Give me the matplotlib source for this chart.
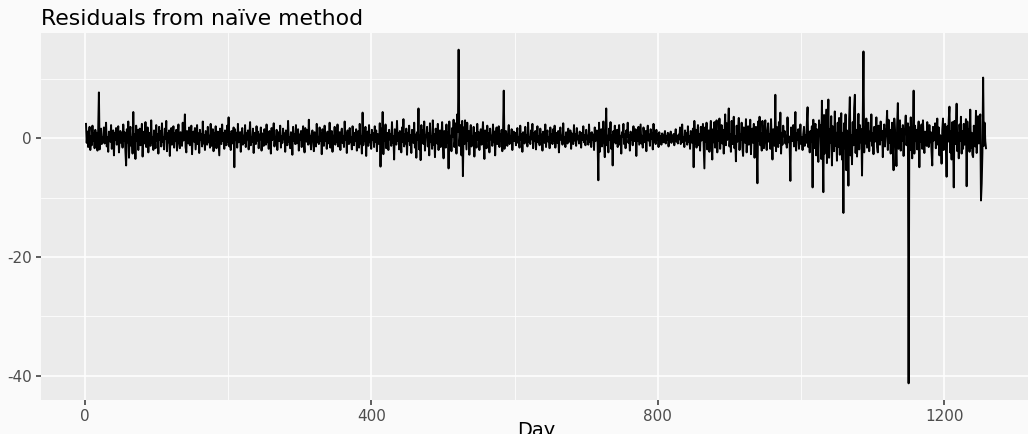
import numpy as np
import matplotlib
matplotlib.use("Agg")
import matplotlib.pyplot as plt
from matplotlib.ticker import MultipleLocator

plt.rcParams["axes.unicode_minus"] = False

# residuals from the naive method (day 2 .. 1258)
resid = [
    2.4, -0.8, 1.1, -1.5, 0.6, 1.9, -2.0, 0.3, -1.2, 2.1, -0.5, 0.8, -1.7, 1.4, -0.2, 0.9, -2.1, 1.3, 7.7, -1.9, 0.4, 1.6, -1.0, 0.2, -0.7,
    1.8, -0.9, 0.5, 2.6, -1.4, 0.2, -2.3, 1.1, 0.7, -0.6, 2.2, -1.8, 0.4, 1.3, -2.9, 0.9, -0.3, 1.7, -1.1, 0.6, 2.0, -2.4, 0.1, 1.2, -0.8,
    0.9, -1.6, 2.3, -0.4, 1.0, -2.2, -4.6, 1.5, -0.7, 2.8, -3.3, 0.6, 1.9, -1.3, 0.2, -2.6, 4.4, -1.8, 0.7, -3.5, 2.1, -0.5, 1.4, -2.0, 0.8,
    1.6, -1.2, 0.3, 2.4, -3.1, 0.5, 1.1, -0.9, 2.7, -1.5, -0.2, 1.8, -2.4, 0.9, 0.4, -1.3, 3.0, -0.8, 0.1, -2.0, 1.3, 0.6, -1.7, 2.2, -0.4,
    0.7, -2.6, 1.9, -0.3, 1.2, -1.4, 2.5, -0.6, 0.2, -1.9, 1.6, -0.1, 2.9, -2.2, 0.8, -0.7, 1.3, -3.0, 0.5, 1.7, -1.1, 0.3, 2.0, -1.6, 0.9,
    -0.5, 1.4, -2.1, 0.6, 2.3, -0.8, -1.7, 1.0, 0.2, -1.3, 2.6, -0.4, 0.9, 4.0, -1.5, -2.4, 1.2, 0.3, -0.9, 1.8, -1.2, 0.5, 2.1, -2.7, 0.4,
    1.1, -0.6, 1.7, -1.9, 0.3, 2.2, -1.0, 0.8, -2.5, 1.4, -0.2, 0.7, -1.4, 2.8, -0.9, 0.5, -2.0, 1.2, 0.1, -1.1, 1.9, -0.7, 0.4, -1.6, 2.4,
    -1.3, 0.6, 1.5, -2.2, 0.9, -0.4, 2.0, -1.7, 0.3, 1.1, -0.8, -2.9, 1.6, 0.2, -1.0, 2.3, -0.5, 0.8, -1.8, 1.3, 0.4, -1.2, 2.1, -0.6, 3.5,
    -1.4, 0.7, -2.0, 1.2, 0.3, -0.9, 1.8, -4.9, 1.5, -0.3, 0.9, -1.6, 2.4, -0.7, 0.2, 1.0, -2.3, 0.6, 1.7, -1.1, 0.4, -0.8, 2.2, -1.5, 0.8,
    -0.2, 1.3, -1.9, 0.5, 2.7, -1.2, 0.1, -0.6, 1.6, -2.5, 0.9, 0.3, -1.0, 2.0, -0.4, 1.1, -1.7, 0.6, -0.2, 1.8, -2.1, 0.8, 0.2, -1.3, 1.5,
    0.4, -1.1, 2.3, -0.7, 0.9, -1.8, 1.2, 0.1, -2.6, 1.7, -0.3, 0.6, 2.5, -1.4, 0.2, -0.9, 1.4, -2.0, 0.7, 1.0, -0.5, 2.1, -1.6, 0.3, -0.8,
    1.6, -0.2, 0.8, -2.3, 1.3, 0.5, -1.2, 2.9, -0.6, 0.1, -1.7, 1.0, 0.4, -2.8, 1.9, -0.4, 0.7, -1.0, 2.2, -0.9, 0.3, 1.5, -2.1, 0.6, -0.3,
    1.2, -1.5, 0.5, 2.0, -0.8, -2.4, 1.7, 0.2, -0.6, 1.4, -1.1, 3.1, -0.9, 0.4, -1.9, 0.8, 1.3, -0.3, -2.2, 1.0, 0.6, -1.4, 2.4, -0.7, 0.2,
    -1.0, 1.8, -0.4, 0.9, -2.7, 1.5, 0.3, -1.3, 2.1, -0.5, 0.7, -1.8, 1.1, 0.2, -0.9, 2.6, -1.6, 0.5, 1.2, -2.3, 0.4, -0.2, 1.9, -1.1, 0.8,
    -0.6, 2.3, -1.4, 0.1, 1.0, -2.0, 0.7, 1.6, -0.8, 0.3, -1.5, 2.8, -0.3, 0.9, -2.5, 1.3, 0.4, -1.0, 1.7, -0.7, 0.2, -1.9, 2.0, 0.6, -1.2,
    0.9, -0.4, 1.5, -2.1, 0.6, 1.2, -1.6, 2.4, -0.9, 0.3, -2.6, 4.3, -1.2, 0.8, -0.5, 1.9, -3.0, 0.4, 1.1, -1.3, 2.2, -0.7, 0.5, -1.8, 1.4,
    -0.3, 0.8, -1.5, 2.0, -0.6, 1.3, -2.2, 0.7, 0.2, -1.0, 2.5, -4.8, 1.6, -0.9, 4.4, -2.7, 1.1, -0.4, 2.3, -1.7, 0.5, 0.9, -2.0, 1.4, -0.2,
    0.6, -1.3, 2.7, -0.8, 0.3, -3.6, 1.5, 0.4, -1.1, 2.9, -0.5, 0.8, -1.9, 1.2, 0.1, -2.4, 1.8, -0.6, 3.2, -1.4, 0.7, -0.9, 1.6, -2.8, 0.9,
    -0.4, 2.1, -1.2, 0.5, -2.5, 1.4, 0.2, -0.8, 2.6, -1.6, 0.6, -3.3, 1.0, -0.3, 5.0, -1.9, 0.4, -3.7, 2.2, -0.7, 1.3, -1.0, 2.8, -2.1, 0.5,
    0.2, 1.9, -1.4, 0.8, -2.9, 2.5, -0.6, 0.3, -1.8, 3.0, -1.1, 0.7, -3.2, 1.6, 0.4, -0.9, 2.4, -2.0, 0.6, 1.3, -1.5, 0.1, 2.7, -0.8, -3.4,
    1.2, 0.5, -1.6, 2.3, -0.7, 1.0, -5.1, 2.8, -1.2, 0.4, -2.2, 1.7, 0.3, 3.1, -1.5, -0.4, 2.5, -2.6, 4.0, 1.1, 14.9, -1.3, 0.6, 2.2, -2.9,
    2.9, -6.4, 1.8, -1.0, 3.0, 0.4, -1.9, 2.6, -0.5, 1.2, -2.8, 0.7, 2.2, -1.4, 0.3, -0.8, 1.9, -3.1, 0.9, 0.2, -1.6, 2.4, -0.3, 1.0, -2.0,
    0.6, 1.5, -1.1, 0.2, 2.7, -0.9, -3.5, 1.3, 0.5, -1.7, 2.1, -0.4, 0.8, -2.4, 1.6, -0.2, 0.4, -1.3, 2.3, -0.7, 1.1, -2.9, 0.6, 1.8, -1.0,
    0.3, 2.0, -1.5, 0.7, -0.4, 1.4, -2.2, 0.9, 8.0, -1.8, 0.5, 1.2, -0.6, -1.3, 0.8, 2.2, -1.0, 0.3, -0.7, 1.5, -2.0, 0.4, 1.1, -0.5, 0.9,
    -1.2, 0.6, 1.7, -0.8, 0.2, -1.6, 2.1, -0.3, 0.7, -2.3, 1.0, 0.4, -0.9, 1.9, -0.4, 0.5, -1.4, 2.6, -0.6, 0.1, -1.0, 1.3, -0.2, 2.4, -1.7,
    0.8, -0.5, 1.2, -1.9, 0.4, 2.0, -0.7, 0.3, -1.2, 1.6, -0.3, 0.6, -2.1, 1.1, 0.2, -0.8, 2.3, -1.5, 0.5, 1.3, -0.6, 0.1, -1.7, 1.8, -0.2,
    0.7, -1.0, 1.5, -0.4, 2.1, -1.6, 0.3, 0.9, -0.8, 1.2, -2.4, 0.6, 1.8, -0.3, 0.4, -1.1, 2.5, -0.7, 0.2, -1.5, 1.0, 0.5, -0.9, 1.6, -0.1,
    -0.6, 1.3, -1.8, 0.8, 0.3, -1.0, 2.2, -0.4, 0.6, -1.3, 1.7, -0.2, 0.4, -0.9, 1.1, 0.2, -1.6, 0.9, -0.3, 2.0, -0.7, 0.5, -1.2, 1.4, -0.2,
    0.4, -1.1, 2.3, -0.6, 0.8, -1.5, 1.0, -0.2, 0.6, -2.0, 1.8, -0.5, 0.2, 1.3, -0.9, -7.1, 2.6, -2.3, 0.7, 1.5, -1.4, 0.3, 2.8, -0.8, -3.2,
    0.9, 5.0, -1.2, 0.4, -2.4, 1.6, -0.3, 2.7, -1.8, 0.5, -4.6, 1.2, -0.6, 2.1, -0.9, 0.3, 1.4, -1.5, 0.7, 2.2, -1.1, 0.4, -2.6, 1.0, 0.2,
    2.4, -1.0, 0.6, -1.7, 1.3, 0.2, 2.6, -0.8, 0.5, -2.1, 1.1, -0.3, 0.9, -1.2, 2.0, -0.5, 0.3, 1.5, -3.0, 0.8, -0.4, 1.9, -1.1, 0.6, 2.3,
    -0.9, 0.4, -1.6, 1.8, 0.2, -0.7, 1.2, -2.2, 0.8, 2.1, -0.4, 0.6, -1.3, 1.5, -0.1, 0.9, -1.9, 2.4, -0.6, 0.3, -1.0, 1.4, -0.2, 0.7, -1.5,
    1.0, -0.5, 0.3, -1.1, 0.8, 0.2, -0.7, 0.5, 1.2, -0.9, 0.4, -0.3, 0.9, -1.4, 0.6, -0.2, 1.1, -0.8, 0.3, -0.5, 0.7, -1.2, 0.4, 1.5, -0.6,
    0.3, -0.9, 0.6, -0.2, 1.8, -1.0, 0.5, 2.3, -0.7, 0.2, -1.5, 1.3, -0.4, 0.8, -1.1, 2.0, -0.6, 0.3, -1.8, 1.2, 0.5, -0.8, 1.6, -4.9, 2.9,
    -0.9, 1.4, -1.6, 0.5, 2.2, -1.2, 0.7, -2.1, 1.9, -0.4, 0.9, 2.4, -1.3, -5.1, 1.8, -0.6, 2.6, -1.9, 0.4, 1.3, -2.3, 0.8, 2.9, -1.0, -3.6,
    1.5, -0.7, 2.7, -1.6, 0.4, 3.0, -2.4, 1.1, -0.5, 3.3, -1.8, 0.6, 2.2, -0.9, 1.4, -2.6, 0.8, 4.0, -1.2, 2.5, -0.3, 1.7, 5.0, -1.4, 0.6,
    -2.3, 2.9, -1.0, 0.5, 3.6, -1.7, 0.3, -3.9, 2.1, -0.6, 1.2, 3.4, -2.0, 0.7, -0.3, 2.6, -1.5, -3.0, 1.8, 0.4, -0.8, 3.2, -2.4, 1.0, 2.0,
    -1.1, 0.6, 3.1, -2.7, 0.9, 1.6, -0.8, 2.4, -3.3, 0.5, 1.9, -1.4, -7.6, 2.8, -0.4, 3.6, -1.2, 0.8, -2.1, 2.9, 0.3, -1.7, 1.4, 3.0, -0.9,
    -2.0, 1.1, 2.5, -0.6, 0.7, -1.8, 3.2, -0.4, -3.6, 1.5, 0.4, -1.3, 7.3, -2.2, 1.9, 0.6, -1.5, 2.7, -0.8, 4.3, -2.6, 0.9, -1.1, 2.1, 0.3,
    1.2, -0.9, 0.4, -1.6, 3.5, -0.7, 0.3, -1.2, -7.2, 1.8, 0.9, -0.5, 2.2, -1.4, 0.6, 4.4, -2.1, 0.8, -0.3, 1.5, -1.8, 0.4, 2.3, -1.0, 0.2,
    -2.0, 0.7, 1.9, -1.3, 0.5, -0.8, 2.6, 5.2, -1.5, 0.9, -2.4, 1.2, -0.6, 2.0, -8.3, 3.1, -1.7, 0.6, 2.4, -2.9, 1.5, -0.4, -4.0, 3.0, 0.8,
    2.2, -3.5, 6.3, -1.8, -9.1, 3.9, -2.6, 1.4, 4.8, -4.2, 0.7, 6.5, -3.3, 1.5, -0.8, 3.7, -4.6, 2.0, 0.4, -2.2, 4.5, -1.3, 0.9, -3.8, 2.6,
    -1.5, 3.4, -2.8, 1.1, 4.2, -3.6, 0.9, -12.6, 2.5, -1.7, 4.0, -5.4, 1.3, -0.6, -8.0, 3.2, 6.9, -2.9, 0.5, -4.4, 2.7, -1.2, 5.1, 7.3, -2.5,
    1.4, -3.1, 0.6, 4.1, -1.9, 2.2, -0.7, 1.5, -6.3, 3.0, 14.6, -2.4, 1.8, -0.9, 3.3, -1.6, 0.5, 2.6, -2.2, 1.1, -0.4, 4.0, -1.3, 0.8, -2.7,
    1.9, -0.6, 0.3, 3.5, -1.5, -2.4, 2.1, 0.7, -1.1, 2.8, -0.3, 1.2, -3.2, 0.9, 2.3, -1.4, 0.4, 1.7, 4.6, -2.0, 3.1, -0.8, 1.4, -2.6, 0.5,
    2.6, -1.0, -5.4, 3.3, 1.2, -0.9, -4.7, 2.4, 5.9, -1.8, 0.6, 3.0, -2.1, 1.5, -0.4, 2.2, -3.0, 0.8, 1.7, 3.8, -1.2, 0.9, 2.5, -41.3, 1.8,
    -2.0, 3.5, -0.8, -3.4, 1.2, 8.0, -2.6, 2.1, -0.5, 1.4, -1.9, 0.7, 2.8, -4.9, 1.6, -0.6, 2.3, -1.8, 3.0, -0.3, -2.5, 1.1, 0.4, -1.3, 2.7,
    0.8, -1.5, 2.2, -0.7, 1.0, -2.3, -4.6, 1.9, -0.4, 0.6, 2.5, -1.7, 0.3, 3.3, -1.1, 1.8, -2.9, 0.5, -0.8, -4.3, 1.4, 3.3, -2.0, 0.9, 2.4,
    -1.3, -6.5, 2.0, -0.6, 3.1, 5.3, -2.4, 1.1, -3.6, 2.7, 0.4, -8.3, 2.9, -1.0, 1.6, 5.8, -2.2, 0.9, -3.4, 2.3, -0.5, 3.6, -2.6, 1.2, -1.8,
    2.4, -1.1, 0.6, 3.2, -8.1, 2.8, -0.7, 1.5, -2.3, 4.8, -1.6, 0.9, -2.8, -3.2, 2.1, 0.5, -1.4, 4.6, -2.5, 1.3, 3.7, -0.9, 2.2, 4.0, -10.5,
    -7.6, -2.4, 10.2, -1.3, 2.6, -0.5, -1.7,
]
day = np.arange(2, 2 + len(resid))

x_ticks = [0, 400, 800, 1200]
y_ticks = [-40, -20, 0]
title = "Residuals from naïve method"

fig = plt.figure(figsize=(10.28, 4.34), dpi=100, facecolor="#fafafa")
ax = fig.add_axes([41 / 1028, 34 / 434, 990 / 1028, 367 / 434])
ax.set_facecolor("#ebebeb")

ax.plot(day, resid, color="black", lw=1.4, solid_joinstyle="round")

# ggplot-style expansion of 5 % on both axes
xr = day.max() - day.min()
ax.set_xlim(day.min() - 0.05 * xr, day.max() + 0.05 * xr)
yr = max(resid) - min(resid)
ax.set_ylim(min(resid) - 0.05 * yr, max(resid) + 0.05 * yr)

ax.set_xticks(x_ticks)
ax.set_yticks(y_ticks)
ax.xaxis.set_minor_locator(MultipleLocator(200))
ax.yaxis.set_minor_locator(MultipleLocator(10))
ax.grid(which="major", color="white", lw=1.1)
ax.grid(which="minor", color="white", lw=0.55)
ax.set_axisbelow(True)
for s in ax.spines.values():
    s.set_visible(False)
ax.tick_params(which="major", length=3.5, width=1.1, color="#333333",
               labelcolor="#4d4d4d", labelsize=11, pad=3)
ax.tick_params(which="minor", length=0)

ax.set_xlabel("Day", fontsize=14, labelpad=-2)
ax.set_title(title, loc="left", fontsize=15.8, pad=6)

fig.savefig("out.png", dpi=100, facecolor=fig.get_facecolor())
